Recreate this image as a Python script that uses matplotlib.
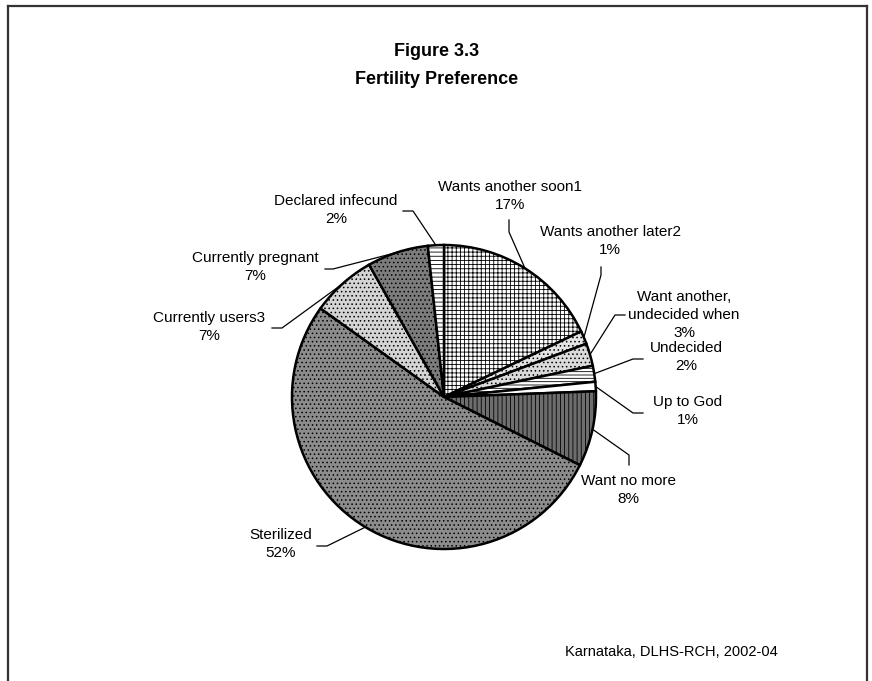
import numpy as np
import matplotlib.pyplot as plt
from matplotlib.lines import Line2D

# Figure 3.3 - Fertility Preference (Karnataka, DLHS-RCH 2002-04)

W, H = 872, 681

categories = ['Wants another soon1', 'Wants another later2',
              'Want another,\nundecided when', 'Undecided', 'Up to God',
              'Want no more', 'Sterilized', 'Currently users3',
              'Currently pregnant', 'Declared infecund']
shares = [17.9, 1.4, 2.4, 1.7, 1.0, 8.0, 52.5, 6.9, 6.5, 1.7]
pct_labels = ['17%', '1%', '3%', '2%', '1%', '8%', '52%', '7%', '7%', '2%']

fills = ['#ffffff', '#e4e4e4', '#dadada', '#ffffff', '#ffffff',
         '#6e6e6e', '#8c8c8c', '#d4d4d4', '#7c7c7c', '#ffffff']
hatches = ['++++', '....', '....', '-----', None,
           '||||', '....', '....', '....', '----']

# label centres and leader elbows, in pixels measured from the top-left
label_xy = [(510, 196), (610, 241), (684, 315), (686, 357), (688, 411),
            (628, 490), (281, 544), (209, 327), (255, 267), (336, 210)]
elbows = [[(509, 220), (509, 232)], [(601, 267), (601, 275)],
          [(625, 315), (615, 315)], [(643, 359), (633, 359)],
          [(643, 413), (633, 413)], [(629, 465), (629, 455)],
          [(317, 546), (327, 546)], [(272, 328), (282, 328)],
          [(325, 269), (333, 269)], [(403, 211), (413, 211)]]

cx, cy, r = 444, 397, 152

plt.rcParams['hatch.linewidth'] = 0.6
plt.rcParams['font.family'] = ['Liberation Sans', 'DejaVu Sans']

fig = plt.figure(figsize=(W / 100, H / 100), dpi=100, facecolor='white')
ax = fig.add_axes([0, 0, 1, 1])

wedges, _ = ax.pie(shares, startangle=90, counterclock=False,
                   center=(cx, H - cy), radius=r, colors=fills,
                   wedgeprops=dict(edgecolor='black', linewidth=1.8))
for w, h in zip(wedges, hatches):
    if h:
        w.set_hatch(h)

ax.set_xlim(0, W)
ax.set_ylim(0, H)
ax.set_aspect('equal')
ax.axis('off')

for i, w in enumerate(wedges):
    mid = np.deg2rad((w.theta1 + w.theta2) / 2)
    anchor = (cx + r * np.cos(mid), H - cy + r * np.sin(mid))
    pts = [(x, H - y) for x, y in elbows[i]] + [anchor]
    ax.plot([p[0] for p in pts], [p[1] for p in pts], color='black', lw=0.9)
    lx, ly = label_xy[i]
    ax.text(lx, H - ly, f'{categories[i]}\n{pct_labels[i]}', ha='center',
            va='center', fontsize=11, linespacing=1.4, color='black')

title_font = ['Liberation Sans Narrow', 'Liberation Sans']
ax.text(437, H - 52, 'Figure 3.3', ha='center', va='center', fontsize=13,
        fontweight='bold', family=title_font)
ax.text(437, H - 80, 'Fertility Preference', ha='center', va='center',
        fontsize=13, fontweight='bold', family=title_font)
ax.text(565, H - 652, 'Karnataka, DLHS-RCH, 2002-04', ha='left', va='center',
        fontsize=10.5)

# chart frame (left, top, right)
for xs, ys in [([8, 8], [0, H - 6]), ([8, 867], [H - 6, H - 6]),
               ([867, 867], [H - 6, 0])]:
    fig.add_artist(Line2D([x / W for x in xs], [y / H for y in ys],
                          color='#333333', lw=1.6))

plt.savefig('out.png', dpi=100, facecolor='white')
